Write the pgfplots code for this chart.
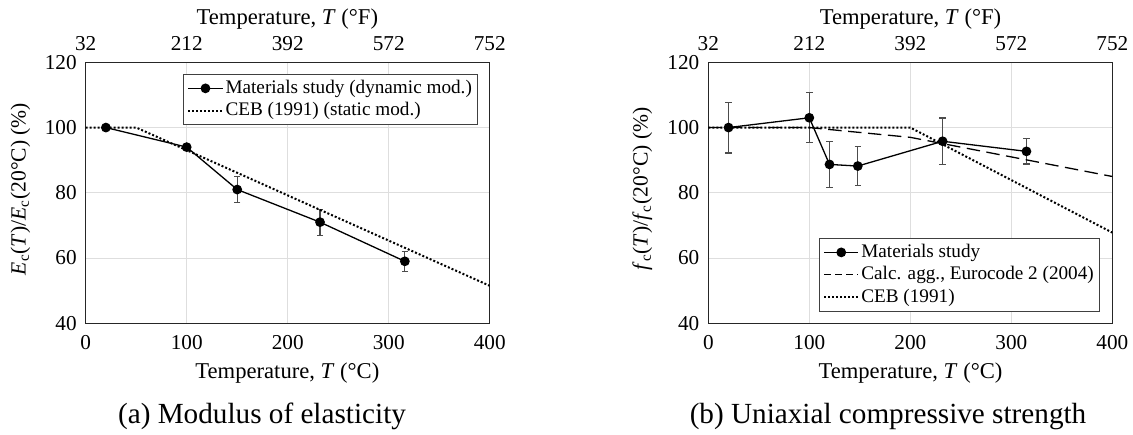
\documentclass[border=0pt]{standalone}
\usepackage{fontspec}
\setmainfont{Liberation Serif}
\usepackage{pgfplots}
\pgfplotsset{compat=1.18}

\newcommand{\ticksize}{\fontsize{10.6}{12}\selectfont}
\newcommand{\labsize}{\fontsize{11.3}{13}\selectfont}

\pgfplotsset{
  tempbase/.style={
    scale only axis, width=202pt, height=130.5pt,
    xmin=0, xmax=400, ymin=40, ymax=120,
    xtick={0,100,200,300,400}, ytick={40,60,80,100,120},
    major tick length=0pt,
    axis line style={line width=0.6pt, black!85},
    tick label style={font=\ticksize},
    /pgf/number format/assume math mode=true,
  },
  tempmain/.style={
    tempbase,
    grid=major, major grid style={line width=0.5pt, black!13},
    xticklabel style={anchor=base, yshift=-13pt},
    yticklabel style={anchor=east, inner sep=0pt, xshift=-4.35pt},
    legend cell align=left,
    legend style={font=\fontsize{9.6}{11}\selectfont, draw=black!75,
      line width=0.5pt, nodes={inner sep=1pt}, inner sep=2pt, row sep=1pt},
  },
  temptop/.style={
    tempbase,
    axis x line*=top, axis y line=none,
    xticklabels={32,212,392,572,752},
    xticklabel style={anchor=base, yshift=6.15pt},
  },
  study/.style={black, line width=0.65pt, mark=*, mark size=2.1pt,
    mark options={solid, fill=black},
    error bars/.cd, y dir=both, y explicit,
    error bar style={line width=0.6pt, black!70},
    error mark options={rotate=90, mark size=1.6pt, line width=0.6pt, black!70}},
  ceb/.style={black, line width=1pt, dash pattern=on 1pt off 1pt, no marks},
  ec/.style={black, line width=0.65pt, dash pattern=on 6.7pt off 3.3pt, no marks,
    legend image post style={dash pattern=on 3.3pt off 2.2pt}},
}

\begin{document}
\begin{tikzpicture}
\useasboundingbox (0,0) rectangle (566.5pt,217pt);

% (a) modulus of elasticity
\begin{axis}[tempmain, at={(42.85pt,55.35pt)}, anchor=south west,
  legend style={at={(1,1)}, anchor=north east, xshift=-5.65pt, yshift=-5.7pt}]
  \addplot[study] table[x=T, y=v, y error=e] {
    T   v    e
    20  100  0
    100 94   0
    150 81   4
    232 71   4
    316 59   3
  };
  \addlegendentry{Materials study (dynamic mod.)}
  \addplot[ceb] coordinates {(0,100) (50,100) (400,51.5)};
  \addlegendentry{CEB (1991) (static mod.)}
\end{axis}
\begin{axis}[temptop, at={(42.85pt,55.35pt)}, anchor=south west]
\end{axis}

% (b) uniaxial compressive strength
\begin{axis}[tempmain, at={(354.15pt,55.35pt)}, anchor=south west,
  legend style={at={(1,0)}, anchor=south east, xshift=-6pt, yshift=5.8pt}]
  \addplot[study] table[x=T, y=v, y error=e] {
    T   v     e
    20  100   7.8
    100 103   7.7
    120 88.7  7
    148 88.2  5.9
    232 95.8  7.1
    315 92.7  3.9
  };
  \addlegendentry{Materials study}
  \addplot[ec] coordinates {(0,100) (100,100) (200,97) (300,91) (400,85)};
  \addlegendentry{Calc. agg., Eurocode 2 (2004)}
  \addplot[ceb] coordinates {(0,100) (200,100) (400,67.8)};
  \addlegendentry{CEB (1991)}
\end{axis}
\begin{axis}[temptop, at={(354.15pt,55.35pt)}, anchor=south west]
\end{axis}

% axis titles
\node[font=\labsize, anchor=base] at (143.7pt,204.5pt) {Temperature, \textit{T} (°F)};
\node[font=\labsize, anchor=base] at (143.7pt,27.85pt) {Temperature, \textit{T} (°C)};
\node[font=\labsize, anchor=base] at (455.25pt,204.5pt) {Temperature, \textit{T} (°F)};
\node[font=\labsize, anchor=base] at (455.25pt,27.85pt) {Temperature, \textit{T} (°C)};
\node[font=\fontsize{10.8}{13}\selectfont, anchor=base, rotate=90] at (12.8pt,122.5pt)
  {\textit{E}\textsubscript{c}(\textit{T})/\textit{E}\textsubscript{c}(20°C) (\%)};
\node[font=\fontsize{10.8}{13}\selectfont, anchor=base, rotate=90] at (323.8pt,122.5pt)
  {\textit{f}\textsubscript{c}(\textit{T})/\textit{f}\textsubscript{c}(20°C) (\%)};

% captions
\node[font=\fontsize{14.6}{17}\selectfont, anchor=base] at (131pt,5.35pt) {(a) Modulus of elasticity};
\node[font=\fontsize{14.6}{17}\selectfont, anchor=base] at (444pt,5.35pt) {(b) Uniaxial compressive strength};
\end{tikzpicture}
\end{document}
